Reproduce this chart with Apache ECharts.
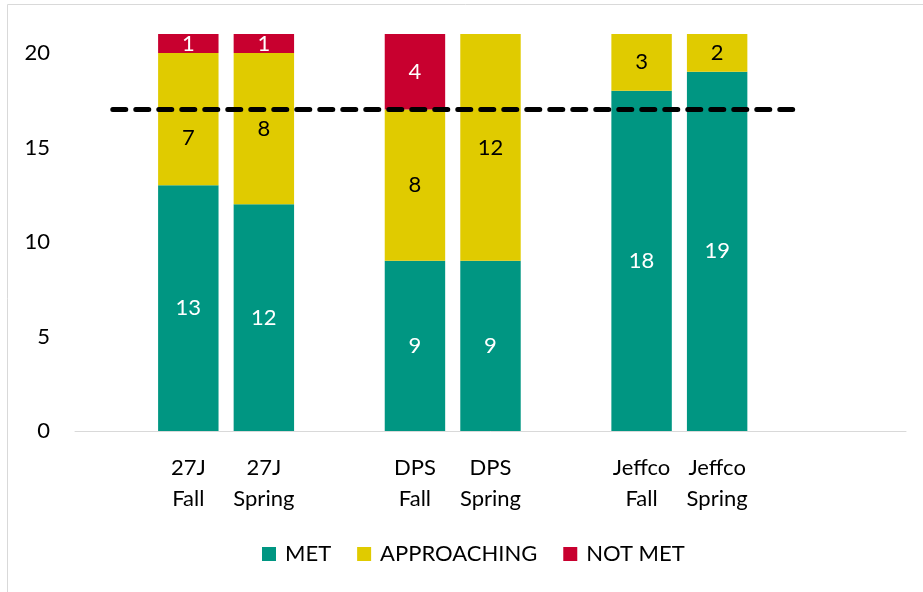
<!DOCTYPE html>
<html lang="en">
<head>
  <meta charset="UTF-8">
  <title>Standards met</title>
  <style>
    html, body { margin: 0; padding: 0; background: #fff; }
    #chart { width: 923px; height: 592px; }
  </style>
</head>
<body>
  <div id="chart"></div>

  <script src="https://cdn.jsdelivr.net/npm/echarts@6/dist/echarts.min.js"></script>
  <script>
    // empty slots keep the gaps between the district groups
    var categories = ['', '27J\nFall', '27J\nSpring', '', 'DPS\nFall', 'DPS\nSpring', '', 'Jeffco\nFall', 'Jeffco\nSpring', '', ''];
    var met = [null, 13, 12, null, 9, 9, null, 18, 19, null, null];
    var approaching = [null, 7, 8, null, 8, 12, null, 3, 2, null, null];
    var notMet = [null, 1, 1, null, 4, 0, null, 0, 0, null, null];
    var target = 17;

    var font = 'Lato, "Open Sans", sans-serif';

    function hideZero(p) {
      return p.value ? p.value : '';
    }

    // the 27J Fall label sits below the target line in the original
    var approachingData = approaching.map(function (v, i) {
      return i === 1 ? { value: v, label: { offset: [0, 19] } } : v;
    });

    var myChart = echarts.init(document.getElementById('chart'));

    var option = {
      animation: false,
      textStyle: { fontFamily: font },
      graphic: [{
        type: 'rect',
        shape: { x: 7.5, y: 4.5, width: 1000, height: 1000 },
        style: { fill: 'none', stroke: '#d9d9d9', lineWidth: 1 },
        silent: true
      }],
      grid: { left: 75, right: 17, top: 34, bottom: 161 },
      legend: {
        bottom: 22,
        left: 257,
        itemWidth: 14,
        itemHeight: 14,
        itemGap: 26,
        icon: 'rect',
        textStyle: { fontSize: 22, color: '#000', fontFamily: font, padding: [0, 0, 0, 4] },
        data: ['MET', 'APPROACHING', 'NOT MET']
      },
      xAxis: {
        type: 'category',
        data: categories,
        axisLine: { lineStyle: { color: '#d9d9d9', width: 1 } },
        axisTick: { show: false },
        axisLabel: {
          interval: 0,
          color: '#000',
          fontSize: 22,
          lineHeight: 31,
          margin: 21,
          fontFamily: font
        }
      },
      yAxis: {
        type: 'value',
        min: 0,
        max: 21,
        interval: 5,
        splitLine: { show: false },
        axisLine: { show: false },
        axisTick: { show: false },
        axisLabel: {
          color: '#000',
          fontSize: 22,
          margin: 25,
          fontFamily: font,
          showMaxLabel: false
        }
      },
      series: [
        {
          name: 'MET',
          type: 'bar',
          stack: 'total',
          barCategoryGap: '20%',
          data: met,
          itemStyle: { color: '#009682' },
          label: { show: true, position: 'inside', color: '#fff', fontSize: 22, fontFamily: font, formatter: hideZero }
        },
        {
          name: 'APPROACHING',
          type: 'bar',
          stack: 'total',
          data: approachingData,
          itemStyle: { color: '#e0cb00' },
          label: { show: true, position: 'inside', color: '#000', fontSize: 22, fontFamily: font, formatter: hideZero }
        },
        {
          name: 'NOT MET',
          type: 'bar',
          stack: 'total',
          data: notMet,
          itemStyle: { color: '#c8002f' },
          label: { show: true, position: 'inside', color: '#fff', fontSize: 22, fontFamily: font, formatter: hideZero },
          markLine: {
            silent: true,
            symbol: 'none',
            label: { show: false },
            lineStyle: { color: '#000', width: 5, type: [13, 10], cap: 'round' },
            data: [[{ coord: [0, target] }, { coord: [9, target] }]]
          }
        }
      ]
    };

    myChart.setOption(option);
  </script>
</body>
</html>
